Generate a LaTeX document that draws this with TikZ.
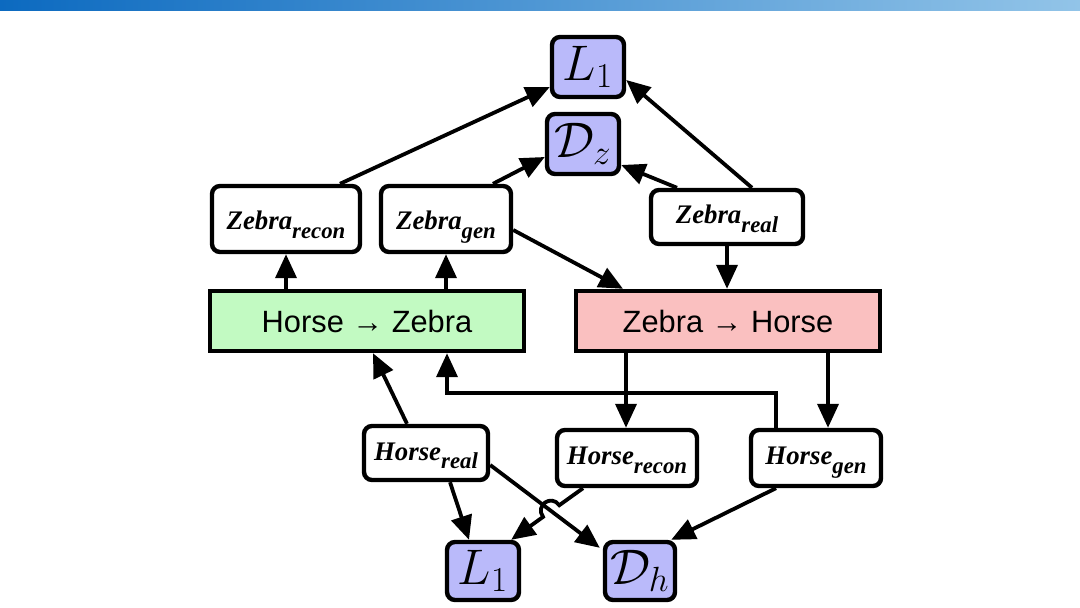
\RequirePackage{fix-cm}
\documentclass[tikz,border=0pt]{standalone}
\usepackage[no-math]{fontspec}
\setmainfont{Liberation Serif}
\newfontfamily\sansf{Liberation Sans}
\usetikzlibrary{arrows.meta,calc}

\definecolor{barleft}{RGB}{12,106,192}
\definecolor{barright}{RGB}{146,196,232}
\definecolor{lossblue}{RGB}{186,186,250}
\definecolor{gengreen}{RGB}{194,250,194}
\definecolor{genred}{RGB}{250,192,192}

\tikzset{
    imgbox/.style={draw, line width=2.2pt, rounded corners=4pt, fill=white, inner sep=0pt,
        text height=7pt, text depth=0pt, font=\fontsize{13.4}{15}\selectfont\bfseries\itshape},
    lossbox/.style={draw, line width=2.2pt, rounded corners=4pt, fill=lossblue, inner sep=0pt,
        font=\fontsize{25}{30}\selectfont},
    genbox/.style={draw, line width=2.2pt, inner sep=0pt, font=\sansf\fontsize{15.4}{18}\selectfont},
    arr/.style={-{Triangle[length=12pt,width=10.5pt]}, line width=1.9pt},
}
\newcommand{\img}[2]{#1\smash{\raisebox{-4.3pt}{\fontsize{11.4}{12}\selectfont #2}}}

\begin{document}
\begin{tikzpicture}[x=0.5pt, y=-0.5pt]
            \useasboundingbox (0, 0) rectangle (1080, 608);
            \shade[left color=barleft, right color=barright] (0, 0) rectangle (1080, 11);

            % losses
            \node[lossbox, minimum width=36pt, minimum height=30pt] (l1t) at (588, 67) {$L_1$};
            \node[lossbox, minimum width=36pt, minimum height=30pt] (dz) at (583, 144) {$\mathcal{D}_z$};
            \node[lossbox, minimum width=36pt, minimum height=29pt] (l1b) at (483, 571) {$L_1$};
            \node[lossbox, minimum width=35pt, minimum height=29pt] (dh) at (640, 571) {$\mathcal{D}_h$};

            % images
            \node[imgbox, minimum width=74pt, minimum height=33pt, text height=11pt] (zrecon) at (286, 219) {\img{Zebra}{recon}};
            \node[imgbox, minimum width=65pt, minimum height=33pt, text height=11pt] (zgen) at (446, 219) {\img{Zebra}{gen}};
            \node[imgbox, minimum width=76pt, minimum height=27pt] (zreal) at (727, 217) {\img{Zebra}{real}};
            \node[imgbox, minimum width=62pt, minimum height=27pt] (hreal) at (426, 453) {\img{Horse}{real}};
            \node[imgbox, minimum width=70pt, minimum height=28pt] (hrecon) at (627, 458) {\img{Horse}{recon}};
            \node[imgbox, minimum width=65pt, minimum height=28pt] (hgen) at (816, 458) {\img{Horse}{gen}};

            % generators
            \node[genbox, fill=gengreen, minimum width=157pt, minimum height=30pt] (hz) at (367, 321) {Horse → Zebra};
            \node[genbox, fill=genred, minimum width=152pt, minimum height=30pt] (zh) at (728, 321) {Zebra → Horse};

            % zebra side
            \draw[arr] ($(zrecon.north)+(54, 0)$) -- ($(l1t.west)+(0, 20)$);
            \draw[arr] ($(zgen.north)+(47, 0)$) -- ($(dz.west)+(0, 13)$);
            \draw[arr] ($(zreal.north)+(25, 0)$) -- ($(l1t.east)+(0, 13)$);
            \draw[arr] ($(zreal.north)+(-50, 0)$) -- ($(dz.east)+(0, 21)$);
            \draw[arr] (zreal.south) -- (zreal.south |- zh.north);
            \draw[arr] ($(zgen.east)+(0, 11)$) -- ($(zh.north)+(-105, 0)$);
            \draw[arr] (hz.north -| zrecon.south) -- (zrecon.south);
            \draw[arr] (hz.north -| zgen.south) -- (zgen.south);

            % horse side
            \draw[arr] ($(hreal.north)+(-19, 0)$) -- ($(hz.south)+(6, 0)$);
            \draw[arr] ($(hgen.north)+(-40, 0)$) |- ($(hz.south)+(80, 40)$) -- ($(hz.south)+(80, 0)$);
            \draw[arr] ($(zh.south)+(-102, 0)$) -- ($(hrecon.north)+(-1, 0)$);
            \draw[arr] ($(zh.south)+(100, 0)$) -- ($(hgen.north)+(12, 0)$);
            \draw[arr] ($(hreal.south)+(24, 0)$) -- ($(l1b.north)+(-14, 0)$);
            \draw[arr] ($(hgen.south)+(-40, 0)$) -- ($(dh.north east)+(-6, 0)$);

            % crossing with a hop
            \coordinate (rc1) at ($(hrecon.south)+(-44, 0)$);
            \coordinate (rc2) at ($(l1b.north east)+(-10, 0)$);
            \coordinate (rd1) at ($(hreal.east)+(0, 12)$);
            \coordinate (rd2) at ($(dh.north west)+(-3, 8)$);
            \coordinate (X) at (intersection of rc1--rc2 and rd1--rd2);
            \coordinate (ha) at ($(X)!5pt!(rc1)$);
            \coordinate (hb) at ($(X)!5pt!(rc2)$);
            \draw[arr] (rd1) -- (rd2);
            \draw[arr] (rc1) -- (ha) .. controls ($(ha)!7pt!-90:(X)$) and ($(hb)!7pt!90:(X)$) .. (hb) -- (rc2);
        \end{tikzpicture}
\end{document}
